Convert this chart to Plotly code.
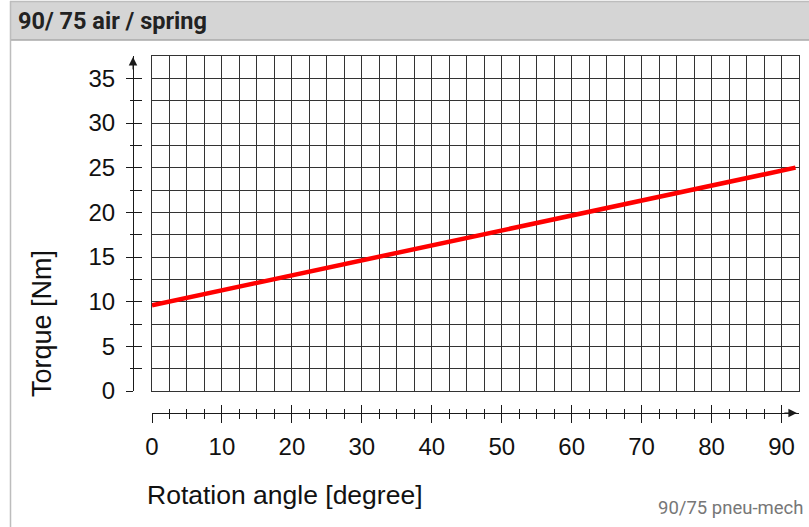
import plotly.graph_objects as go

# ---------------- data ----------------
angle_deg = [0, 92]
torque_nm = [9.6, 25.0]

x_major_ticks = [0, 10, 20, 30, 40, 50, 60, 70, 80, 90]
x_minor_ticks = [2.5, 5, 7.5, 12.5, 15, 17.5, 22.5, 25, 27.5, 32.5, 35, 37.5,
                 42.5, 45, 47.5, 52.5, 55, 57.5, 62.5, 65, 67.5, 72.5, 75, 77.5,
                 82.5, 85, 87.5]
y_major_ticks = [0, 5, 10, 15, 20, 25, 30, 35]
y_minor_ticks = [2.5, 7.5, 12.5, 17.5, 22.5, 27.5, 32.5]

x_range = [0, 92.5]
y_range = [0, 37.5]

title_text = "90/ 75 air / spring"
x_title = "Rotation angle [degree]"
y_title = "Torque [Nm]"
footer_text = "90/75 pneu-mech"

# ---------------- geometry helpers ----------------
W, H = 809, 527
ML, MR, MT, MB = 130, 5, 50, 100
PW, PH = W - ML - MR, H - MT - MB


def px(xp):
    return (xp - ML) / PW


def py(yp):
    return (H - MB - yp) / PH


GRID = "#333333"
AX = "#1a1a1a"
TICKFONT = dict(family="Liberation Sans, Arial, sans-serif", size=24, color="#111111")

fig = go.Figure()

fig.add_trace(go.Scatter(
    x=angle_deg, y=torque_nm, mode="lines",
    line=dict(color="#ff0000", width=4.5),
    xaxis="x", yaxis="y", showlegend=False, hoverinfo="skip"))

# helper traces so that free axes are rendered
fig.add_trace(go.Scatter(x=[None], y=[None], xaxis="x2", yaxis="y2",
                         showlegend=False, hoverinfo="skip"))
fig.add_trace(go.Scatter(x=[None], y=[None], xaxis="x3", yaxis="y3",
                         showlegend=False, hoverinfo="skip"))

xdom = [px(152), px(799)]
ydom = [py(391), py(56)]
y_axis_pos = px(133)
x_axis_pos = py(413)

fig.update_layout(
    width=W, height=H,
    margin=dict(l=ML, r=MR, t=MT, b=MB),
    paper_bgcolor="white", plot_bgcolor="white",
    showlegend=False,
    xaxis=dict(domain=xdom, range=x_range, dtick=2.5, tick0=0,
               showgrid=True, gridcolor=GRID, gridwidth=1,
               zeroline=False, showline=True, mirror=True,
               linecolor=GRID, linewidth=1,
               showticklabels=False, ticks="", fixedrange=True),
    yaxis=dict(domain=ydom, range=y_range, dtick=2.5, tick0=0,
               showgrid=True, gridcolor=GRID, gridwidth=1,
               zeroline=False, showline=True, mirror=True,
               linecolor=GRID, linewidth=1,
               showticklabels=False, ticks="", fixedrange=True),
    # x axis below the grid: labels + downward ticks
    xaxis2=dict(overlaying="x", anchor="free", position=x_axis_pos,
                range=x_range, tickmode="array", tickvals=x_major_ticks,
                ticktext=[str(v) for v in x_major_ticks],
                ticks="outside", ticklen=9, tickwidth=1, tickcolor=AX,
                minor=dict(tickmode="array", tickvals=x_minor_ticks,
                           ticks="outside", ticklen=5, tickwidth=1, tickcolor=AX),
                showline=True, linecolor=AX, linewidth=1,
                showgrid=False, zeroline=False, tickfont=TICKFONT,
                ticklabelstandoff=3, fixedrange=True),
    # upward ticks
    xaxis3=dict(overlaying="x", anchor="free", position=x_axis_pos,
                range=x_range, tickmode="array", tickvals=x_major_ticks,
                ticks="inside", ticklen=8, tickwidth=1, tickcolor=AX,
                minor=dict(tickmode="array", tickvals=x_minor_ticks,
                           ticks="inside", ticklen=4, tickwidth=1, tickcolor=AX),
                showline=False, showgrid=False, zeroline=False,
                showticklabels=False, fixedrange=True),
    # y axis left of the grid: labels + leftward ticks
    yaxis2=dict(overlaying="y", anchor="free", position=y_axis_pos,
                range=y_range, tickmode="array", tickvals=y_major_ticks,
                ticktext=[str(v) for v in y_major_ticks],
                ticks="outside", ticklen=7, tickwidth=1, tickcolor=AX,
                minor=dict(tickmode="array", tickvals=y_minor_ticks,
                           ticks="outside", ticklen=3, tickwidth=1, tickcolor=AX),
                showline=True, linecolor=AX, linewidth=1,
                showgrid=False, zeroline=False, tickfont=TICKFONT,
                ticklabelstandoff=6, fixedrange=True),
    # rightward ticks
    yaxis3=dict(overlaying="y", anchor="free", position=y_axis_pos,
                range=y_range, tickmode="array", tickvals=y_major_ticks,
                ticks="inside", ticklen=8, tickwidth=1, tickcolor=AX,
                minor=dict(tickmode="array", tickvals=y_minor_ticks,
                           ticks="inside", ticklen=8, tickwidth=1, tickcolor=AX),
                showline=False, showgrid=False, zeroline=False,
                showticklabels=False, fixedrange=True),
)

# card / header decoration
fig.add_shape(type="rect", xref="paper", yref="paper",
              x0=px(10), x1=px(812), y0=py(40), y1=py(1),
              fillcolor="#d5d5d5", line=dict(width=0), layer="below")
fig.add_shape(type="line", xref="paper", yref="paper",
              x0=px(10), x1=px(812), y0=py(40), y1=py(40),
              line=dict(color="#a8a8a8", width=1.5))
fig.add_shape(type="line", xref="paper", yref="paper",
              x0=px(10), x1=px(812), y0=py(1.5), y1=py(1.5),
              line=dict(color="#bdbdbd", width=1.5))
fig.add_shape(type="line", xref="paper", yref="paper",
              x0=px(10.5), x1=px(10.5), y0=py(1), y1=py(530),
              line=dict(color="#bdbdbd", width=1.5))

annotations = [
    dict(text="<b>" + title_text + "</b>", xref="paper", yref="paper",
         x=px(16), y=py(21), xanchor="left", yanchor="middle", showarrow=False,
         font=dict(family="Roboto, sans-serif", size=23.5, color="#222222")),
    dict(text=y_title, xref="paper", yref="paper", x=px(42), y=py(323),
         xanchor="center", yanchor="middle", textangle=-90, showarrow=False,
         font=dict(family="Liberation Sans, Arial, sans-serif", size=27, color="#111111")),
    dict(text=x_title, xref="paper", yref="paper", x=px(145), y=py(495),
         xanchor="left", yanchor="middle", showarrow=False,
         font=dict(family="Liberation Sans, Arial, sans-serif", size=26.5, color="#111111")),
    dict(text=footer_text, xref="paper", yref="paper", x=px(805), y=py(508),
         xanchor="right", yanchor="middle", showarrow=False,
         font=dict(family="Roboto, sans-serif", size=18.5, color="#777777")),
    # axis arrows
    dict(text="", xref="paper", yref="y", x=y_axis_pos, y=y_range[1] - 0.1,
         ax=0, ay=14, showarrow=True, arrowhead=2, arrowsize=1.7,
         arrowwidth=1, arrowcolor=AX, standoff=0),
    dict(text="", xref="x", yref="paper", x=x_range[1] - 0.3, y=x_axis_pos,
         ax=-14, ay=0, showarrow=True, arrowhead=2, arrowsize=1.7,
         arrowwidth=1, arrowcolor=AX, standoff=0),
]
fig.update_layout(annotations=annotations)

fig.write_html("out.html",
               config={"displayModeBar": False},
               post_script="document.body.style.margin='0';document.body.style.overflow='hidden';")
